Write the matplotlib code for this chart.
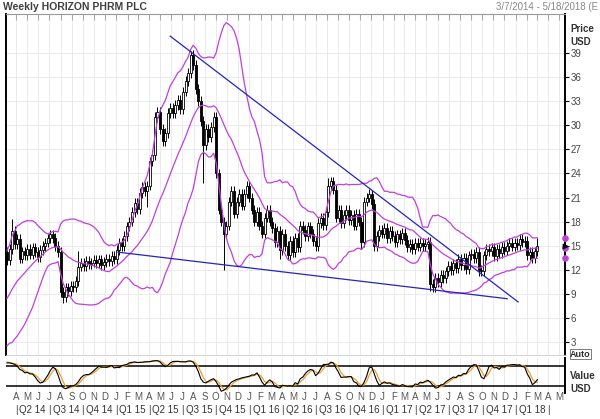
import numpy as np
import pandas as pd
import matplotlib
matplotlib.use('Agg')
import matplotlib.pyplot as plt
from matplotlib.transforms import blended_transform_factory

# ---------------- data (weekly) ----------------
start_date = pd.Timestamp('2014-03-07')
end_date = pd.Timestamp('2018-05-18')

# closes before the visible window, only used to warm up the indicators
pre_closes = [4.0, 4.5, 5.0, 5.8, 6.5, 7.0, 7.2, 6.8, 7.3, 7.6,
              7.4, 7.8, 8.5, 9.2, 10.0, 11.0, 12.5, 13.5, 14.2]

closes = [13.2, 14.6, 16.8, 15.2, 15.8, 13.4, 14.3, 13.8, 14.6, 13.9,
          14.8, 14.2, 13.6, 14.5, 15.0, 15.4, 15.9, 16.4, 16.0, 15.0,
          14.2, 9.2, 8.6, 9.8, 9.4, 10.0, 9.8, 10.6, 12.4, 12.9,
          12.5, 13.1, 12.7, 12.9, 13.2, 12.8, 13.3, 12.6, 13.0, 13.4,
          13.1, 13.7, 13.3, 14.5, 15.3, 15.0, 16.2, 17.4, 18.0, 19.2,
          20.3, 19.6, 21.6, 22.3, 21.8, 22.5, 25.5, 26.3, 31.0, 31.7,
          29.5, 28.0, 29.0, 31.5, 32.2, 31.5, 32.5, 33.2, 32.0, 34.2,
          35.5, 36.5, 38.8, 37.5, 34.5, 33.0, 30.5, 27.5, 29.5, 28.5,
          29.8, 31.0, 24.0, 19.5, 18.0, 16.5, 17.5, 20.5, 21.8, 19.0,
          20.5, 21.5, 20.0, 21.5, 22.5, 21.0, 19.5, 18.0, 19.2, 17.5,
          16.5, 18.5, 19.5, 18.0, 17.2, 15.5, 16.8, 14.5, 16.5, 15.0,
          13.8, 15.6, 14.2, 16.0, 14.8, 17.5, 17.0, 16.2, 17.4, 16.5,
          15.6, 15.0, 17.8, 18.5, 17.6, 19.2, 22.5, 23.0, 22.0, 18.5,
          19.5, 17.8, 18.8, 19.5, 18.2, 18.8, 17.5, 19.0, 18.0, 15.5,
          20.5, 21.0, 21.5, 20.2, 15.0, 16.2, 17.0, 16.5, 17.2, 16.0,
          16.8, 16.2, 15.5, 16.4, 15.8, 16.6, 15.7, 14.8, 15.2, 14.6,
          15.3, 14.9, 15.4, 15.0, 15.2, 15.5, 10.2, 9.8, 11.0, 10.5,
          11.4, 11.0, 11.8, 12.5, 12.0, 12.8, 12.2, 13.4, 12.6, 13.5,
          12.1, 13.8, 14.0, 13.5, 14.2, 12.0, 11.8, 13.8, 14.6, 14.3,
          14.8, 13.7, 14.6, 14.1, 14.9, 14.4, 15.0, 15.3, 14.9, 15.4,
          15.1, 15.8, 15.5, 15.6, 13.8, 14.2, 13.5, 14.3, 15.0]

# notable long wicks (week index -> price)
wick_hi = {2: 18.3, 28: 14.3, 72: 39.3, 126: 23.4, 143: 22.0, 208: 16.0}
wick_lo = {22: 7.9, 55: 19.8, 77: 22.8, 85: 12.0, 107: 13.4,
           139: 14.6, 144: 14.4, 166: 9.3, 185: 11.2}
wick_default = 0.6

# trend lines (week index, price)
upper_trend_w = [64.0, 200.4]
upper_trend_p = [41.1, 8.0]
lower_trend_w = [43.5, 196.1]
lower_trend_p = [14.2, 8.4]

price_ticks = list(range(3, 40, 3))

# ---------------- build OHLC ----------------
all_c = np.array(pre_closes + closes)
all_o = np.concatenate([[all_c[0]], all_c[:-1]])
all_h = np.maximum(all_o, all_c) + wick_default
all_l = np.minimum(all_o, all_c) - wick_default
n_pre = len(pre_closes)
for k, v in wick_hi.items():
    all_h[n_pre + k] = v
for k, v in wick_lo.items():
    all_l[n_pre + k] = v

weeks = np.arange(len(all_c)) - n_pre
s = pd.Series(all_c)
mid = s.rolling(20).mean()
sd = s.rolling(20).std(ddof=0)
upper = mid + 2 * sd
lower = mid - 2 * sd

hh = pd.Series(all_h).rolling(14).max()
ll = pd.Series(all_l).rolling(14).min()
fast_k = 100 * (s - ll) / (hh - ll)
stoch_k = fast_k.rolling(3).mean()
stoch_d = stoch_k.rolling(3).mean()

vis = weeks >= 0

def wk(d):
    return (pd.Timestamp(d) - start_date).days / 7.0

x_left = -0.4
x_right = wk(end_date) - 0.2
month_starts = pd.date_range('2014-04-01', '2018-05-01', freq='MS')
month_pos = [wk(d) for d in month_starts]

# ---------------- figure ----------------
plt.rcParams['font.family'] = ['Liberation Sans', 'DejaVu Sans']
fig = plt.figure(figsize=(6.0, 4.19), dpi=100)
W, H = 600.0, 419.0

ax = fig.add_axes([6 / W, 1 - 355 / H, 559 / W, 341 / H])
ax.set_xlim(x_left, x_right)
ax.set_ylim(1.39, 43.86)

ax.set_xticks(month_pos)
ax.set_yticks(price_ticks)
ax.grid(True, color='#e8e8e8', lw=0.6, zorder=0)
ax.tick_params(axis='x', top=True, bottom=False, labeltop=False, labelbottom=False,
               direction='in', length=4, color='#aaaaaa')
ax.yaxis.tick_right()
ax.tick_params(axis='y', right=True, left=False, length=3, width=0.8,
               labelsize=7, labelcolor='#444444', pad=1)
for side in ['left', 'right']:
    ax.spines[side].set_color('black')
    ax.spines[side].set_linewidth(1.4)
ax.spines['top'].set_color('#999999')
ax.spines['top'].set_linewidth(0.8)
ax.spines['bottom'].set_color('#cccccc')
ax.spines['bottom'].set_linewidth(0.6)

# candles
o = all_o[vis]
c = all_c[vis]
h = all_h[vis]
l = all_l[vis]
xw = weeks[vis]
up = c >= o
ax.vlines(xw, l, h, color='black', lw=0.7, zorder=3)
body_bot = np.minimum(o, c)
body_h = np.maximum(np.abs(c - o), 0.15)
ax.bar(xw[up], body_h[up], bottom=body_bot[up], width=0.8, color='white',
       edgecolor='black', linewidth=0.6, zorder=4)
ax.bar(xw[~up], body_h[~up], bottom=body_bot[~up], width=0.8, color='black',
       edgecolor='black', linewidth=0.6, zorder=4)

band_col = '#c040dc'
ax.plot(weeks[vis], upper[vis], color=band_col, lw=0.9, zorder=5)
ax.plot(weeks[vis], mid[vis], color=band_col, lw=0.9, zorder=5)
ax.plot(weeks[vis], lower[vis], color=band_col, lw=0.9, zorder=5)

trend_col = '#2424c0'
ax.plot(upper_trend_w, upper_trend_p, color=trend_col, lw=0.9, zorder=6)
ax.plot(lower_trend_w, lower_trend_p, color=trend_col, lw=0.9, zorder=6)

# last values marked on the price axis
last = len(all_c) - 1
ax.scatter([x_right] * 3, [upper[last], mid[last], lower[last]], s=14,
           color=band_col, clip_on=False, zorder=10)
ax.scatter([x_right], [all_c[last]], s=10, marker='>', color='black',
           clip_on=False, zorder=11)

# oscillator panel
ax2 = fig.add_axes([6 / W, 1 - 393 / H, 559 / W, 35 / H])
ax2.set_xlim(x_left, x_right)
ax2.set_ylim(-1, 104)
ax2.set_xticks(month_pos)
ax2.set_yticks([])
ax2.grid(True, axis='x', color='#e8e8e8', lw=0.6, zorder=0)
ax2.tick_params(axis='x', bottom=False, labelbottom=False)
for side in ['left', 'top', 'bottom']:
    ax2.spines[side].set_visible(False)
ax2.spines['right'].set_color('black')
ax2.spines['right'].set_linewidth(1.4)
ax2.axhline(80, color='black', lw=1.1, zorder=2)
ax2.axhline(20, color='black', lw=1.1, zorder=2)
ax2.plot(weeks[vis], stoch_d[vis], color='#e8a030', lw=0.9, zorder=3)
ax2.plot(weeks[vis], stoch_k[vis], color='black', lw=0.8, zorder=4)

# time axis labels
tr = blended_transform_factory(ax.transData, fig.transFigure)
for d, p in zip(month_starts, month_pos):
    fig.text(p, 1 - 397 / H, d.strftime('%b')[0], transform=tr, ha='center',
             va='center', fontsize=7, color='#555555')
quarter_starts = pd.date_range('2014-04-01', '2018-04-01', freq='QS')
for a, b in zip(quarter_starts[:-1], quarter_starts[1:]):
    q = (a.month - 1) // 3 + 1
    fig.text((wk(a) + wk(b)) / 2, 1 - 410 / H, f'Q{q} {a.year % 100:02d}',
             transform=tr, ha='center', va='center', fontsize=7, color='#333333')
for a in quarter_starts:
    fig.text(wk(a), 1 - 410 / H, '|', transform=tr, ha='center', va='center',
             fontsize=7, color='#333333')

# header and side labels
fig.text(3 / W, 1 - 7 / H, 'Weekly HORIZON PHRM PLC', fontsize=7.5, fontweight='bold',
         color='#404040', va='center', ha='left')
fig.text(598 / W, 1 - 7 / H, '3/7/2014 - 5/18/2018 (E', fontsize=7,
         color='#888888', va='center', ha='right')
fig.text(570 / W, 1 - 29 / H, 'Price', fontsize=7, fontweight='bold',
         color='#333333', va='center')
fig.text(570 / W, 1 - 42 / H, 'USD', fontsize=7, fontweight='bold',
         color='#333333', va='center')
fig.text(570 / W, 1 - 376 / H, 'Value', fontsize=7, fontweight='bold',
         color='#333333', va='center')
fig.text(570 / W, 1 - 389 / H, 'USD', fontsize=7, fontweight='bold',
         color='#333333', va='center')
fig.text(570 / W, 1 - 354 / H, 'Auto', fontsize=6.5, fontweight='bold',
         color='#333333', va='center',
         bbox=dict(boxstyle='square,pad=0.05', fc='white', ec='#666666', lw=0.6))

fig.savefig('out.png', dpi=100)
